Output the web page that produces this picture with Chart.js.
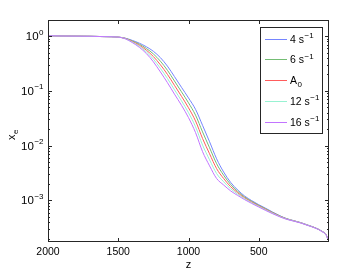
<!DOCTYPE html>
<html>
<head>
<meta charset="utf-8">
<script src="https://cdn.jsdelivr.net/npm/chart.js@4.4.1/dist/chart.umd.min.js"></script>
<style>
  html, body { margin: 0; padding: 0; background: #fff; }
  canvas { display: block; }
</style>
</head>
<body>
<canvas id="xeChart" width="363" height="273"></canvas>
<script>
// redshift grid (x axis runs from 2000 down to 0)
const zValues = [2000, 1900, 1800, 1700, 1600, 1500, 1450, 1400, 1350, 1300, 1250, 1200, 1150, 1100, 1050, 1000,
  950, 900, 850, 800, 750, 700, 650, 600, 550, 500, 450, 400, 350, 300, 250, 200, 150, 100, 50, 20, 10, 0];

// ionisation fraction x_e
const xe4 = [1.012, 1.0, 0.995, 0.989, 0.975, 0.955, 0.914, 0.832, 0.741, 0.637, 0.526, 0.403, 0.282, 0.182, 0.1159, 0.0741,
  0.0459, 0.02344, 0.01175, 0.00575, 0.0033, 0.00213, 0.00155, 0.0012, 0.00099, 0.000834, 0.000716, 0.00061, 0.000525,
  0.000464, 0.000426, 0.000392, 0.000354, 0.000318, 0.000274, 0.000235, 0.000205, 0.000178];
const xe6 = [1.012, 1.0, 0.995, 0.989, 0.975, 0.955, 0.908, 0.813, 0.710, 0.593, 0.471, 0.347, 0.237, 0.151, 0.0959, 0.0603,
  0.036, 0.01778, 0.00912, 0.00468, 0.00288, 0.00195, 0.00146, 0.00115, 0.000961, 0.000814, 0.0007, 0.000599, 0.000519,
  0.00046, 0.000424, 0.000391, 0.000352, 0.000317, 0.000273, 0.000234, 0.000204, 0.000178];
const xeA0 = [1.012, 1.0, 0.995, 0.989, 0.975, 0.955, 0.902, 0.794, 0.679, 0.552, 0.422, 0.2985, 0.1995, 0.126, 0.0794, 0.049,
  0.0282, 0.01349, 0.00708, 0.0038, 0.00251, 0.00178, 0.00138, 0.00111, 0.000933, 0.000794, 0.000684, 0.000589, 0.000513,
  0.000457, 0.000422, 0.000389, 0.000351, 0.000316, 0.000272, 0.000234, 0.000204, 0.000178];
const xe12 = [1.012, 1.0, 0.995, 0.989, 0.975, 0.955, 0.895, 0.776, 0.650, 0.514, 0.378, 0.257, 0.168, 0.1047, 0.0658, 0.0398,
  0.0221, 0.01023, 0.0055, 0.00309, 0.00219, 0.00163, 0.0013, 0.00107, 0.000906, 0.000775, 0.000668, 0.000579, 0.000507,
  0.000454, 0.00042, 0.000388, 0.00035, 0.000315, 0.000271, 0.000233, 0.000203, 0.000178];
const xe16 = [1.012, 1.0, 0.995, 0.989, 0.975, 0.955, 0.889, 0.759, 0.622, 0.479, 0.338, 0.221, 0.141, 0.0871, 0.0545, 0.0324,
  0.0173, 0.00776, 0.00427, 0.00251, 0.00191, 0.00149, 0.00123, 0.00103, 0.000879, 0.000757, 0.000653, 0.000569, 0.000501,
  0.00045, 0.000418, 0.000386, 0.000348, 0.000314, 0.00027, 0.000233, 0.000203, 0.000178];

// legend labels: [main text, script text, 'sup' or 'sub']
const seriesLabels = [['4 s', '\u22121', 'sup'], ['6 s', '\u22121', 'sup'], ['A', '0', 'sub'], ['12 s', '\u22121', 'sup'], ['16 s', '\u22121', 'sup']];
const seriesColors = ['#7585ff', '#74bd74', '#ff5c5c', '#98f2d2', '#c274ff'];
const seriesValues = [xe4, xe6, xeA0, xe12, xe16];

const xTicks = [2000, 1500, 1000, 500];
const yTicks = [1, 0.1, 0.01, 0.001];
const yTickExps = ['0', '\u22121', '\u22122', '\u22123'];

const FONT = "'Liberation Sans', Arial, Helvetica, sans-serif";

function textWithScript(ctx, x, y, main, script, kind, size) {
  // main text from x on baseline y, then the script raised or lowered
  ctx.font = size + 'px ' + FONT;
  ctx.fillText(main, x, y);
  const w = ctx.measureText(main).width;
  ctx.font = Math.round(size * 0.75) + 'px ' + FONT;
  ctx.fillText(script, x + w + 0.5, kind === 'sup' ? y - size * 0.42 : y + size * 0.3);
}

const axesPlugin = {
  id: 'matlabAxes',
  afterDraw(chart) {
    const { ctx, chartArea: a, scales } = chart;
    const xs = scales.x, ys = scales.y;
    ctx.save();
    ctx.strokeStyle = '#262626';
    ctx.fillStyle = '#000';
    ctx.lineWidth = 1;

    // box
    ctx.strokeRect(a.left + 0.5, a.top + 0.5, a.right - a.left - 1, a.bottom - a.top - 1);

    // x ticks, inward on bottom and top
    ctx.beginPath();
    xTicks.forEach(v => {
      const px = Math.round(xs.getPixelForValue(v)) + 0.5;
      ctx.moveTo(px, a.bottom); ctx.lineTo(px, a.bottom - 4);
      ctx.moveTo(px, a.top); ctx.lineTo(px, a.top + 4);
    });
    // y ticks, major and minor, left and right
    for (let e = -4; e <= 0; e++) {
      for (let k = 1; k <= 9; k++) {
        const v = k * Math.pow(10, e);
        if (v < ys.min || v > ys.max) continue;
        const py = Math.round(ys.getPixelForValue(v)) + 0.5;
        const len = k === 1 ? 4 : 2;
        ctx.moveTo(a.left, py); ctx.lineTo(a.left + len, py);
        ctx.moveTo(a.right, py); ctx.lineTo(a.right - len, py);
      }
    }
    ctx.stroke();

    // x tick labels
    ctx.font = '10.5px ' + FONT;
    ctx.textAlign = 'center';
    ctx.textBaseline = 'alphabetic';
    xTicks.forEach(v => ctx.fillText(String(v), xs.getPixelForValue(v), a.bottom + 13));

    // y tick labels 10^n
    ctx.textAlign = 'left';
    yTicks.forEach((v, i) => {
      const py = ys.getPixelForValue(v);
      ctx.font = '8px ' + FONT;
      const we = ctx.measureText(yTickExps[i]).width;
      ctx.font = '11.5px ' + FONT;
      const wb = ctx.measureText('10').width;
      const x0 = a.left - 5 - we - wb;
      ctx.fillText('10', x0, py + 4);
      ctx.font = '8px ' + FONT;
      ctx.fillText(yTickExps[i], x0 + wb + 0.5, py - 1.5);
    });

    // axis titles
    ctx.font = '11px ' + FONT;
    ctx.textAlign = 'center';
    ctx.fillText('z', (a.left + a.right) / 2, a.bottom + 26);
    ctx.save();
    ctx.translate(15, (a.top + a.bottom) / 2 + 4);
    ctx.rotate(-Math.PI / 2);
    ctx.textAlign = 'left';
    textWithScript(ctx, -5, 0, 'x', 'e', 'sub', 11);
    ctx.restore();

    // legend box
    const lx = 260, ly = 27, lw = 62, lh = 106;
    ctx.fillStyle = '#fff';
    ctx.fillRect(lx, ly, lw, lh);
    ctx.strokeStyle = '#262626';
    ctx.strokeRect(lx + 0.5, ly + 0.5, lw, lh);
    ctx.textAlign = 'left';
    seriesLabels.forEach((lab, i) => {
      const ry = 38.5 + i * 20.8;
      ctx.strokeStyle = seriesColors[i];
      ctx.beginPath();
      ctx.moveTo(265, Math.round(ry) + 0.5);
      ctx.lineTo(287, Math.round(ry) + 0.5);
      ctx.stroke();
      ctx.fillStyle = '#000';
      textWithScript(ctx, 290, ry + 4, lab[0], lab[1], lab[2], 10.5);
    });
    ctx.restore();
  }
};

const datasets = seriesValues.map((vals, i) => ({
  label: seriesLabels[i][0] + seriesLabels[i][1],
  data: zValues.map((z, j) => ({ x: z, y: vals[j] })),
  borderColor: seriesColors[i],
  borderWidth: 1,
  pointRadius: 0,
  fill: false,
  cubicInterpolationMode: 'monotone',
  order: seriesValues.length - i
}));

new Chart(document.getElementById('xeChart').getContext('2d'), {
  type: 'line',
  data: { datasets: datasets },
  options: {
    responsive: false,
    devicePixelRatio: 1,
    animation: false,
    layout: { padding: { left: 48, right: 34, top: 20, bottom: 31 } },
    plugins: { legend: { display: false }, tooltip: { enabled: false } },
    scales: {
      x: { type: 'linear', reverse: true, min: 0, max: 2000, display: false },
      y: { type: 'logarithmic', min: 1.74e-4, max: 1.96, display: false }
    }
  },
  plugins: [axesPlugin]
});
</script>
</body>
</html>
